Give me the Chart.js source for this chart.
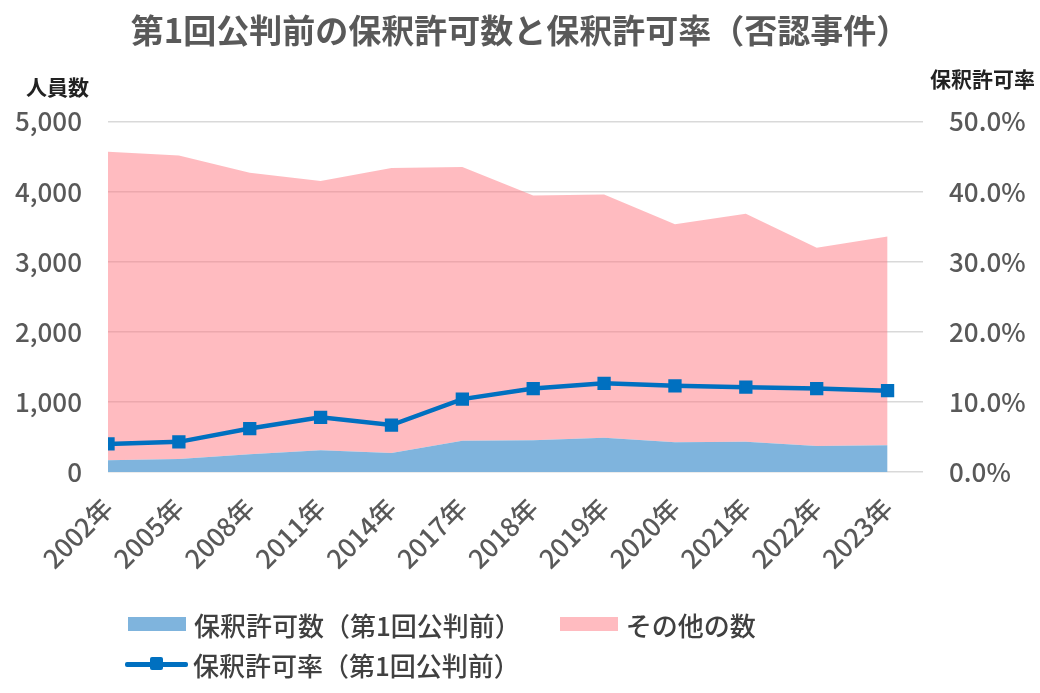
<!DOCTYPE html>
<html lang="ja">
<head>
<meta charset="utf-8">
<title>第1回公判前の保釈許可数と保釈許可率（否認事件）</title>
<script src="https://cdn.jsdelivr.net/npm/chart.js@4.4.1/dist/chart.umd.min.js"></script>
<style>
  html, body { margin: 0; padding: 0; background: #fff; }
  #wrap { position: relative; width: 1040px; height: 693px; font-family: "Noto Sans CJK JP", sans-serif; }
  #chart { position: absolute; left: 0; top: 0; }
  #legend { position: absolute; left: 125px; top: 604px; color: #404040; font-size: 26px; font-weight: 500; }
  .row { display: flex; align-items: center; height: 40px; }
  .item { display: flex; align-items: center; }
  .box { width: 58px; height: 14px; margin-left: 3px; margin-right: 8px; }
  .line-sw { position: relative; width: 63px; height: 14px; margin-right: 5px; }
  .line-sw .ln { position: absolute; left: 0; right: 0; top: 5px; height: 4.5px; background: #0070c0; border-radius: 2px; }
  .line-sw .mk { position: absolute; left: 25px; top: 0; width: 13px; height: 13px; background: #0070c0; border-radius: 2px; }
</style>
</head>
<body>
<div id="wrap">
  <canvas id="chart" width="1040" height="693"></canvas>
  <div id="legend">
    <div class="row">
      <div class="item" style="margin-right:36px"><span class="box" style="background:#7fb4dd"></span>保釈許可数（第1回公判前）</div>
      <div class="item"><span class="box" style="background:#ffbbc0"></span>その他の数</div>
    </div>
    <div class="row">
      <div class="item"><span class="line-sw"><span class="ln"></span><span class="mk"></span></span>保釈許可率（第1回公判前）</div>
    </div>
  </div>
</div>
<script>
const categories = ['2002年', '2005年', '2008年', '2011年', '2014年', '2017年', '2018年', '2019年', '2020年', '2021年', '2022年', '2023年'];
const permitted = [167, 186, 252, 310, 271, 445, 452, 490, 424, 433, 371, 381];
const others = [4404, 4332, 4019, 3841, 4066, 3906, 3495, 3471, 3110, 3253, 2830, 2981];
const rates = [4.0, 4.3, 6.2, 7.8, 6.7, 10.4, 11.9, 12.65, 12.3, 12.1, 11.9, 11.6];

const countMax = 5000;
const countStep = 1000;
const rateMax = 50;
const rateStep = 10;

const titleText = '第1回公判前の保釈許可数と保釈許可率（否認事件）';
const leftAxisTitle = '人員数';
const rightAxisTitle = '保釈許可率';

const FONT = "'Noto Sans CJK JP', 'Noto Sans', sans-serif";
const tickColor = '#595959';

// x は線形軸にして、右端に半区間の余白を残す
const toPoints = (arr) => arr.map((v, i) => ({ x: i, y: v }));

const axisTitles = {
  id: 'axisTitles',
  afterDraw(chart) {
    const { ctx, chartArea } = chart;
    ctx.save();
    ctx.font = `bold 21px ${FONT}`;
    ctx.fillStyle = '#222222';
    ctx.textBaseline = 'middle';
    ctx.textAlign = 'right';
    ctx.fillText(leftAxisTitle, chartArea.left - 19, chartArea.top - 35);
    ctx.textAlign = 'left';
    ctx.fillText(rightAxisTitle, chartArea.right + 7, chartArea.top - 43);
    ctx.restore();
  }
};

new Chart(document.getElementById('chart'), {
  type: 'line',
  data: {
    datasets: [
      {
        label: '保釈許可率（第1回公判前）',
        data: toPoints(rates),
        yAxisID: 'y1',
        order: -1,
        borderColor: '#0070c0',
        backgroundColor: '#0070c0',
        borderWidth: 4.5,
        pointStyle: 'rect',
        pointRadius: 8,
        pointBorderWidth: 2,
        fill: false
      },
      {
        label: '保釈許可数（第1回公判前）',
        data: toPoints(permitted),
        yAxisID: 'y',
        backgroundColor: '#7fb4dd',
        borderWidth: 0,
        pointRadius: 0,
        fill: 'origin'
      },
      {
        label: 'その他の数',
        data: toPoints(others),
        yAxisID: 'y',
        backgroundColor: 'rgba(255, 120, 130, 0.5)',
        borderWidth: 0,
        pointRadius: 0,
        fill: '-1'
      }
    ]
  },
  options: {
    responsive: false,
    animation: false,
    layout: { padding: 0 },
    plugins: {
      legend: { display: false },
      tooltip: { enabled: false },
      title: {
        display: true,
        text: titleText,
        color: tickColor,
        font: { family: FONT, size: 33, weight: 'bold' },
        padding: { top: 11, bottom: 71 }
      }
    },
    scales: {
      x: {
        type: 'linear',
        min: 0,
        max: categories.length - 0.5,
        afterBuildTicks: (s) => { s.ticks = categories.map((_, i) => ({ value: i })); },
        afterFit: (s) => { s.height = 221; },
        grid: { display: false },
        border: { display: false },
        ticks: {
          autoSkip: false,
          minRotation: 45,
          maxRotation: 45,
          padding: 12,
          color: tickColor,
          font: { family: FONT, size: 26, weight: 500 },
          callback: (v) => categories[v] ?? ''
        }
      },
      y: {
        position: 'left',
        stacked: true,
        min: 0,
        max: countMax,
        afterFit: (s) => { s.width = 108; },
        grid: { color: '#d9d9d9', lineWidth: 1.5, drawTicks: false },
        border: { display: false },
        ticks: {
          stepSize: countStep,
          padding: 26,
          color: tickColor,
          font: { family: FONT, size: 26, weight: 500 },
          callback: (v) => v.toLocaleString('en-US')
        }
      },
      y1: {
        position: 'right',
        min: 0,
        max: rateMax,
        afterFit: (s) => { s.width = 117; },
        grid: { display: false, drawTicks: false },
        border: { display: false },
        ticks: {
          stepSize: rateStep,
          padding: 26,
          color: tickColor,
          font: { family: FONT, size: 26, weight: 500 },
          callback: (v) => v.toFixed(1) + '%'
        }
      }
    }
  },
  plugins: [axisTitles]
});
</script>
</body>
</html>
